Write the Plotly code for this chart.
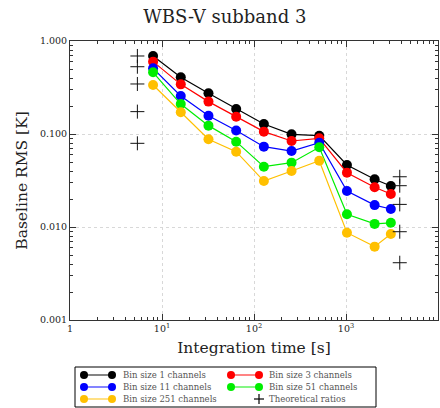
import plotly.graph_objects as go

# Integration times [s]
t_int = [8, 16, 32, 64, 128, 256, 512, 1024, 2048, 3072]

# Baseline RMS [K] for each channel bin size
rms_bin1 = [0.690, 0.407, 0.274, 0.186, 0.128, 0.0991, 0.0959, 0.0464, 0.0326, 0.0276]
rms_bin3 = [0.600, 0.342, 0.223, 0.153, 0.106, 0.0841, 0.0898, 0.0384, 0.0267, 0.0226]
rms_bin11 = [0.508, 0.256, 0.157, 0.109, 0.0731, 0.0656, 0.0806, 0.0244, 0.0172, 0.0156]
rms_bin51 = [0.461, 0.210, 0.123, 0.0827, 0.0445, 0.0492, 0.0720, 0.0137, 0.0108, 0.0111]
rms_bin251 = [0.336, 0.171, 0.0877, 0.0645, 0.0312, 0.0400, 0.0516, 0.00869, 0.00615, 0.0084]

series_names = ["Bin size 1 channels", "Bin size 3 channels", "Bin size 11 channels",
                "Bin size 51 channels", "Bin size 251 channels"]
series_colors = ["#000000", "#ff0000", "#0000ff", "#00ee00", "#ffc000"]
series_values = [rms_bin1, rms_bin3, rms_bin11, rms_bin51, rms_bin251]

# Theoretical ratios, shown beside the shortest and longest integrations
theory_x = [5.4] * 5 + [3840] * 5
theory_y = [0.690, 0.529, 0.345, 0.174, 0.0794, 0.0347, 0.0278, 0.0175, 0.0089, 0.00413]
theory_name = "Theoretical ratios"

# Axis tick labels
x_tickvals = [1, 10, 100, 1000, 10000]
x_ticktext = ["1", "10<sup>1</sup>", "10<sup>2</sup>", "10<sup>3</sup>", "10<sup>4</sup>"]
y_tickvals = [0.001, 0.01, 0.1, 1.0]
y_ticktext = ["0.001", "0.010", "0.100", "1.000"]

FONT = "DejaVu Serif"
W, H = 440, 408
ML, MR, MT, MB = 70, 2, 41, 88
PW, PH = W - ML - MR, H - MT - MB

fig = go.Figure()
for name, color, vals in zip(series_names, series_colors, series_values):
    fig.add_trace(go.Scatter(
        x=t_int, y=vals, name=name, mode="lines+markers",
        line=dict(color=color, width=1.2),
        marker=dict(color=color, size=10, symbol="circle"),
        showlegend=False,
    ))

fig.add_trace(go.Scatter(
    x=theory_x, y=theory_y, name=theory_name, mode="markers",
    marker=dict(symbol="cross-thin", size=10, color="black",
                line=dict(color="#111", width=1)),
    showlegend=False,
))

x_minor = [m * 10 ** d for d in range(0, 4) for m in range(2, 10)]
y_minor = [m * 10 ** d for d in range(-3, 0) for m in range(2, 10)]

axis_common = dict(
    type="log", ticks="inside", ticklen=6, tickwidth=1, tickcolor="#333",
    showline=True, linecolor="#333", linewidth=1, mirror="allticks",
    showgrid=True, gridcolor="#d8d8d8", griddash="dot", gridwidth=1,
    zeroline=False, tickfont=dict(family=FONT, size=9.5, color="#222"),
)

fig.update_xaxes(
    **axis_common, range=[0, 4], tickmode="array",
    tickvals=x_tickvals, ticktext=x_ticktext,
    minor=dict(tickvals=x_minor, ticks="inside", ticklen=3, tickcolor="#333", showgrid=False),
    title=dict(text="Integration time [s]", font=dict(family=FONT, size=15.5, color="#222"), standoff=8),
)
fig.update_yaxes(
    **axis_common, range=[-3, 0], tickmode="array",
    tickvals=y_tickvals, ticktext=y_ticktext,
    minor=dict(tickvals=y_minor, ticks="inside", ticklen=3, tickcolor="#333", showgrid=False),
    title=dict(text="Baseline RMS [K]", font=dict(family=FONT, size=15.5, color="#222"), standoff=8),
)


# Legend box below the axes, drawn in paper coordinates (2 columns x 3 rows)
def px(xp):
    return (xp - ML) / PW


def py(yp):
    return (MT + PH - yp) / PH


shapes = [dict(type="rect", xref="paper", yref="paper",
               x0=px(75), x1=px(376), y0=py(367), y1=py(407),
               line=dict(color="black", width=1), fillcolor="white", layer="above")]
annotations = []
rows = [375, 387, 399]
cols = [(84, 112, 121), (231, 259, 267)]
entries = list(zip(series_names, series_colors)) + [(theory_name, None)]
for i, (label, color) in enumerate(entries):
    r, c = divmod(i, 2)
    yc = rows[r]
    xa, xb, xt = cols[c]
    if color is not None:
        shapes.append(dict(type="line", xref="paper", yref="paper",
                           x0=px(xa), x1=px(xb), y0=py(yc), y1=py(yc),
                           line=dict(color=color, width=1.6), opacity=0.6, layer="above"))
        for xm in (xa, xb):
            shapes.append(dict(type="circle", xref="paper", yref="paper",
                               xsizemode="pixel", ysizemode="pixel",
                               xanchor=px(xm), yanchor=py(yc),
                               x0=-4, x1=4, y0=-4, y1=4,
                               fillcolor=color, line=dict(color=color, width=0), layer="above"))
    else:
        for x0, x1, y0, y1 in ((xb - 5, xb + 5, yc, yc), (xb, xb, yc - 5, yc + 5)):
            shapes.append(dict(type="line", xref="paper", yref="paper",
                               x0=px(x0), x1=px(x1), y0=py(y0), y1=py(y1),
                               line=dict(color="black", width=1.2), layer="above"))
    annotations.append(dict(text=label, xref="paper", yref="paper",
                            x=px(xt), y=py(yc), xanchor="left", yanchor="middle",
                            showarrow=False, font=dict(family=FONT, size=8.5, color="#555")))

fig.update_layout(
    width=W, height=H,
    margin=dict(l=ML, r=MR, t=MT, b=MB),
    paper_bgcolor="white", plot_bgcolor="white",
    title=dict(text="WBS-V subband 3", x=0.511, xanchor="center", y=1 - 17 / H, yanchor="middle",
               font=dict(family=FONT, size=18, color="#222")),
    showlegend=False,
    shapes=shapes,
    annotations=annotations,
)

fig.write_html("out.html")
